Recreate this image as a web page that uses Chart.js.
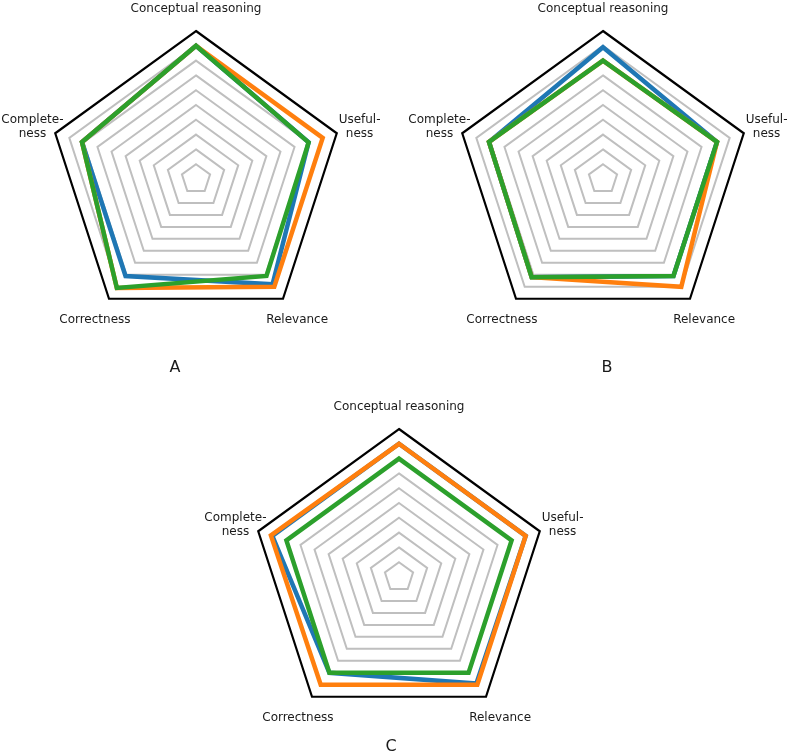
<!DOCTYPE html>
<html>
<head>
<meta charset="utf-8">
<script src="https://cdn.jsdelivr.net/npm/chart.js@4/dist/chart.umd.min.js"></script>
<style>
    html, body { margin: 0; padding: 0; background: #fff; }
    body { width: 788px; height: 753px; position: relative; overflow: hidden; }
    canvas { position: absolute; }
    .panel-tag {
        position: absolute;
        font: 16px "DejaVu Sans", sans-serif;
        line-height: 16px;
        color: #1a1a1a;
        transform: translateX(-50%);
    }
</style>
</head>
<body>
<canvas id="radarA" width="436" height="436" style="left:-22px; top:-39px;"></canvas>
<canvas id="radarB" width="436" height="436" style="left:385px; top:-39px;"></canvas>
<canvas id="radarC" width="436" height="436" style="left:181px; top:359px;"></canvas>
<div class="panel-tag" style="left:175px; top:359px;">A</div>
<div class="panel-tag" style="left:607px; top:359px;">B</div>
<div class="panel-tag" style="left:391px; top:738px;">C</div>

<script>
// =========================
// DATA
// =========================
const axisLabels = [
    ["Conceptual reasoning"],
    ["Useful-", "ness"],
    ["Relevance"],
    ["Correctness"],
    ["Complete-", "ness"]
];

// scores per axis, same order as axisLabels
const blueA   = [0.90, 0.80, 0.88, 0.81, 0.81];
const orangeA = [0.90, 0.90, 0.90, 0.91, 0.81];
const greenA  = [0.90, 0.80, 0.81, 0.91, 0.81];

const blueB   = [0.89, 0.81, 0.81, 0.82, 0.81];
const orangeB = [0.80, 0.81, 0.90, 0.82, 0.81];
const greenB  = [0.80, 0.81, 0.81, 0.82, 0.81];

const blueC   = [0.90, 0.90, 0.89, 0.80, 0.90];
const orangeC = [0.90, 0.90, 0.90, 0.90, 0.91];
const greenC  = [0.80, 0.80, 0.80, 0.80, 0.80];

const COLORS = { blue: "#1f77b4", orange: "#ff7f0e", green: "#2ca02c" };

// =========================
// AXIS LABELS (centered, like matplotlib)
// =========================
const axisLabelPlugin = {
    id: "axisLabels",
    afterDraw(chart) {
        const scale = chart.scales.r;
        const ctx = chart.ctx;
        ctx.save();
        ctx.font = '12px "DejaVu Sans", sans-serif';
        ctx.fillStyle = "#1a1a1a";
        ctx.textAlign = "center";
        ctx.textBaseline = "middle";
        chart.data.labels.forEach((lines, i) => {
            const pos = scale.getPointPosition(i, scale.drawingArea + 24);
            const lineHeight = 14;
            const startY = pos.y + 1.5 - (lines.length - 1) * lineHeight / 2;
            lines.forEach((line, k) => {
                ctx.fillText(line, pos.x, startY + k * lineHeight);
            });
        });
        ctx.restore();
    }
};

// =========================
// RADAR BUILDER
// =========================
function makeRadar(canvasId, blue, orange, green) {
    const series = [
        { values: blue,   color: COLORS.blue,   order: 2 },
        { values: orange, color: COLORS.orange, order: 1 },
        { values: green,  color: COLORS.green,  order: 0 }
    ];

    new Chart(document.getElementById(canvasId), {
        type: "radar",
        data: {
            labels: axisLabels,
            datasets: series.map(s => ({
                data: s.values,
                borderColor: s.color,
                backgroundColor: "transparent",
                borderWidth: 4.5,
                borderJoinStyle: "miter",
                fill: false,
                pointRadius: 0,
                pointHoverRadius: 0,
                tension: 0,
                order: s.order
            }))
        },
        options: {
            responsive: false,
            animation: false,
            events: [],
            layout: { padding: 70 },
            plugins: {
                legend: { display: false },
                tooltip: { enabled: false }
            },
            scales: {
                r: {
                    min: 0,
                    max: 1,
                    ticks: { display: false, stepSize: 0.1 },
                    angleLines: { display: false },
                    pointLabels: { display: false },
                    grid: {
                        color: ctx => (ctx.tick && ctx.tick.value > 0.999) ? "#000000" : "#bfbfbf",
                        lineWidth: ctx => (ctx.tick && ctx.tick.value > 0.999) ? 2.2 : 2
                    }
                }
            }
        },
        plugins: [axisLabelPlugin]
    });
}

makeRadar("radarA", blueA, orangeA, greenA);
makeRadar("radarB", blueB, orangeB, greenB);
makeRadar("radarC", blueC, orangeC, greenC);
</script>
</body>
</html>
